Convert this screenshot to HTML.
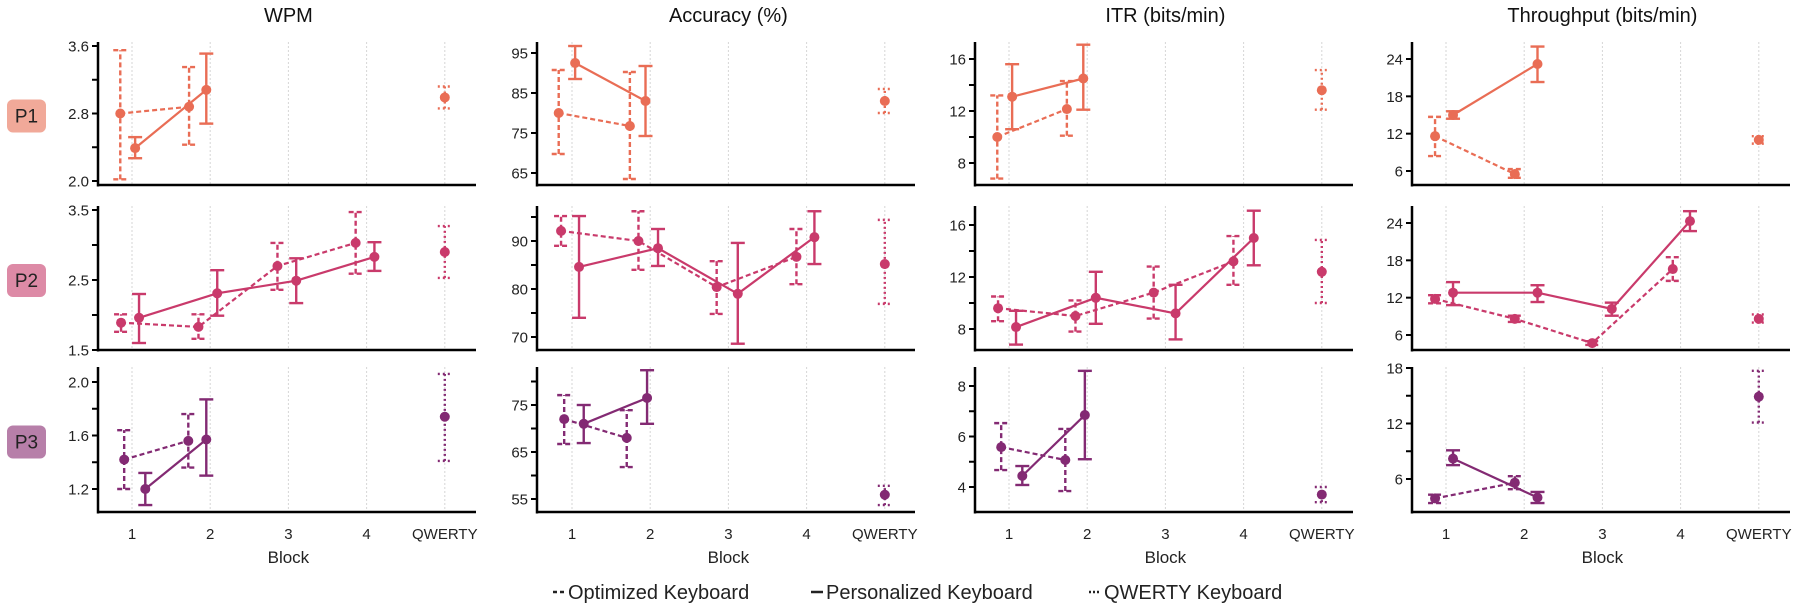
<!DOCTYPE html>
<html><head><meta charset="utf-8">
<style>
html,body{margin:0;padding:0;background:#fff;}
svg{display:block;font-family:"Liberation Sans",sans-serif;}
</style></head>
<body>
<svg id="chart" width="1800" height="613" viewBox="0 0 1800 613" xmlns="http://www.w3.org/2000/svg"></svg>
<script>
// ---- data (block position, mean, lower, upper) ----
const wpmP1Opt={x:[0.85,1.73],y:[2.80,2.88],lo:[2.02,2.43],hi:[3.55,3.35]};
const wpmP1Per={x:[1.04,1.95],y:[2.39,3.08],lo:[2.27,2.68],hi:[2.52,3.51]};
const wpmP1Qw={x:[5],y:[2.99],lo:[2.86],hi:[3.12]};
const wpmP2Opt={x:[0.86,1.85,2.86,3.86],y:[1.89,1.83,2.70,3.03],lo:[1.76,1.66,2.36,2.59],hi:[2.01,2.01,3.03,3.47]};
const wpmP2Per={x:[1.09,2.09,3.10,4.10],y:[1.96,2.31,2.49,2.83],lo:[1.60,1.99,2.17,2.63],hi:[2.30,2.64,2.81,3.04]};
const wpmP2Qw={x:[5],y:[2.90],lo:[2.53],hi:[3.27]};
const wpmP3Opt={x:[0.90,1.72],y:[1.42,1.56],lo:[1.20,1.36],hi:[1.64,1.76]};
const wpmP3Per={x:[1.17,1.95],y:[1.20,1.57],lo:[1.08,1.30],hi:[1.32,1.87]};
const wpmP3Qw={x:[5],y:[1.74],lo:[1.41],hi:[2.06]};

const accP1Opt={x:[0.83,1.74],y:[80,76.75],lo:[69.75,63.5],hi:[90.75,90.25]};
const accP1Per={x:[1.04,1.94],y:[92.5,83],lo:[88.5,74.25],hi:[96.75,91.75]};
const accP1Qw={x:[5],y:[83],lo:[80],hi:[86]};
const accP2Opt={x:[0.86,1.85,2.85,3.87],y:[92.1,90,80.4,86.7],lo:[89,84,74.8,81],hi:[95.2,96.2,85.8,92.5]};
const accP2Per={x:[1.09,2.10,3.12,4.10],y:[84.6,88.5,79,90.8],lo:[74,84.8,68.6,85.2],hi:[95.2,92.5,89.6,96.2]};
const accP2Qw={x:[5],y:[85.2],lo:[76.9],hi:[94.4]};
const accP3Opt={x:[0.90,1.70],y:[72,68],lo:[66.7,61.8],hi:[77.1,73.9]};
const accP3Per={x:[1.15,1.96],y:[71,76.5],lo:[66.9,71],hi:[75,82.4]};
const accP3Qw={x:[5],y:[55.9],lo:[53.7],hi:[57.8]};

const itrP1Opt={x:[0.85,1.74],y:[10.0,12.15],lo:[6.8,10.1],hi:[13.2,14.3]};
const itrP1Per={x:[1.04,1.95],y:[13.1,14.5],lo:[10.6,12.1],hi:[15.6,17.1]};
const itrP1Qw={x:[5],y:[13.6],lo:[12.1],hi:[15.15]};
const itrP2Opt={x:[0.86,1.85,2.85,3.87],y:[9.6,9.0,10.8,13.2],lo:[8.6,7.8,8.8,11.4],hi:[10.5,10.2,12.8,15.15]};
const itrP2Per={x:[1.09,2.11,3.13,4.13],y:[8.15,10.4,9.2,15.0],lo:[6.8,8.4,7.2,12.9],hi:[9.4,12.4,11.4,17.1]};
const itrP2Qw={x:[5],y:[12.4],lo:[10.0],hi:[14.85]};
const itrP3Opt={x:[0.90,1.72],y:[5.58,5.07],lo:[4.67,3.84],hi:[6.53,6.3]};
const itrP3Per={x:[1.17,1.97],y:[4.44,6.85],lo:[4.08,5.1],hi:[4.83,8.6]};
const itrP3Qw={x:[5],y:[3.7],lo:[3.4],hi:[4.0]};

const tpP1Opt={x:[0.86,1.88],y:[11.6,5.5],lo:[8.4,4.9],hi:[14.7,6.3]};
const tpP1Per={x:[1.09,2.17],y:[15.0,23.2],lo:[14.4,20.3],hi:[15.6,26]};
const tpP1Qw={x:[5],y:[11],lo:[10.4],hi:[11.6]};
const tpP2Opt={x:[0.86,1.88,2.87,3.90],y:[11.8,8.6,4.7,16.6],lo:[11.1,8.1,4.4,14.7],hi:[12.4,9.1,5.0,18.5]};
const tpP2Per={x:[1.09,2.17,3.12,4.12],y:[12.8,12.8,10.2,24.3],lo:[10.8,11.3,9.1,22.7],hi:[14.5,14.0,11.2,25.9]};
const tpP2Qw={x:[5],y:[8.6],lo:[8.0],hi:[9.3]};
const tpP3Opt={x:[0.86,1.88],y:[3.9,5.6],lo:[3.4,4.9],hi:[4.3,6.3]};
const tpP3Per={x:[1.09,2.17],y:[8.2,4.0],lo:[7.5,3.4],hi:[9.1,4.6]};
const tpP3Qw={x:[5],y:[14.9],lo:[12.1],hi:[17.7]};

const metricTitles=["WPM","Accuracy (%)","ITR (bits/min)","Throughput (bits/min)"];
const participantLabels=["P1","P2","P3"];
const xTickLabels=["1","2","3","4","QWERTY"];
const wpmTicks=[[2.0,2.4,2.8,3.2,3.6],[1.5,2.0,2.5,3.0,3.5],[1.2,1.4,1.6,1.8,2.0]];
const wpmTickLabels=[["2.0","","2.8","","3.6"],["1.5","","2.5","","3.5"],["1.2","","1.6","","2.0"]];
const accTicks=[[65,75,85,95],[70,75,80,85,90,95],[55,60,65,70,75,80]];
const accTickLabels=[["65","75","85","95"],["70","","80","","90",""],["55","","65","","75",""]];
const itrTicks=[[8,10,12,14,16],[8,10,12,14,16],[4,5,6,7,8]];
const itrTickLabels=[["8","","12","","16"],["8","","12","","16"],["4","","6","","8"]];
const tpTicks=[[6,12,18,24],[6,12,18,24],[6,9,12,15,18]];
const tpTickLabels=[["6","12","18","24"],["6","12","18","24"],["6","","12","","18"]];

// ---- layout ----
const NS="http://www.w3.org/2000/svg";
const svg=document.getElementById('chart');
const colAx=[98,537,975,1412], colG1=[132,572,1009,1446], STEP=78.2, PW=378;
const rowTop=[42,206,367], rowBot=[185,350,512];
const colors=["#e96d55","#c93a6b","#832a73"];
const boxColors=["#f1a999","#dd8aa6","#b77fa9"];
// y calibration per [col][row]: [v1,px1,v2,px2]
const cal=[
 [[2.0,181,3.6,46],[1.5,350,3.5,210],[1.2,489,2.0,382]],
 [[65,173,95,53],[70,337,90,241],[55,499,75,405]],
 [[8,163,16,59],[8,329,16,225],[4,487,8,386]],
 [[6,171,24,59],[6,335,24,223],[6,479,18,368]]];
const allSeries=[
 [[wpmP1Opt,wpmP1Per,wpmP1Qw],[wpmP2Opt,wpmP2Per,wpmP2Qw],[wpmP3Opt,wpmP3Per,wpmP3Qw]],
 [[accP1Opt,accP1Per,accP1Qw],[accP2Opt,accP2Per,accP2Qw],[accP3Opt,accP3Per,accP3Qw]],
 [[itrP1Opt,itrP1Per,itrP1Qw],[itrP2Opt,itrP2Per,itrP2Qw],[itrP3Opt,itrP3Per,itrP3Qw]],
 [[tpP1Opt,tpP1Per,tpP1Qw],[tpP2Opt,tpP2Per,tpP2Qw],[tpP3Opt,tpP3Per,tpP3Qw]]];
const allTicks=[wpmTicks,accTicks,itrTicks,tpTicks];
const allTickLabels=[wpmTickLabels,accTickLabels,itrTickLabels,tpTickLabels];
const dashes=["5,3","","2,3"];
const seriesNames=["optimized","personalized","qwerty"];

function mk(tag,attrs,parent){const e=document.createElementNS(NS,tag);for(const k in attrs)e.setAttribute(k,attrs[k]);(parent||svg).appendChild(e);return e;}
function xS(c,b){return colG1[c]+(b-1)*STEP;}
function yS(c,r,v){const k=cal[c][r];return k[1]+(v-k[0])*(k[3]-k[1])/(k[2]-k[0]);}

for(let c=0;c<4;c++){
  const t=mk('text',{x:xS(c,3),y:22,'text-anchor':'middle','font-size':20,fill:'#111'});
  t.textContent=metricTitles[c];
  
  
}
for(let r=0;r<3;r++){
  const g=mk('g',{});
  
  
  const cy=(rowTop[r]+rowBot[r])/2+2;
  mk('rect',{x:7,y:cy-16,width:39,height:33,rx:6,fill:boxColors[r]},g);
  const t=mk('text',{x:26.5,y:cy+7,'text-anchor':'middle','font-size':19,fill:'#222'},g);
  t.textContent=participantLabels[r];
}
for(let c=0;c<4;c++){
  for(let r=0;r<3;r++){
    const g=mk('g',{});
    
    
    const ax=colAx[c], top=rowTop[r], bot=rowBot[r];
    for(let i=0;i<5;i++){
      const gx=xS(c,i+1);
      const gl=mk('line',{x1:gx,x2:gx,y1:top,y2:bot,stroke:'#d6d6d6','stroke-width':1,'stroke-dasharray':'2,2'},g);
      
      
    }
    const ya=mk('line',{x1:ax,x2:ax,y1:top,y2:bot+1.5,stroke:'#000','stroke-width':2.5},g);
    
    
    const xa=mk('line',{x1:ax-1,x2:ax+PW,y1:bot,y2:bot,stroke:'#000','stroke-width':2.5},g);
    
    
    const tk=allTicks[c][r], tl=allTickLabels[c][r];
    tk.forEach((v,i)=>{
      const y=yS(c,r,v);
      mk('line',{x1:ax-6,x2:ax,y1:y,y2:y,stroke:'#000','stroke-width':2},g);
      if(tl[i]){const t=mk('text',{x:ax-9,y:y+5.5,'text-anchor':'end','font-size':15,fill:'#222'},g);t.textContent=tl[i];
        
        }
    });
    if(r===2){
      xTickLabels.forEach((l,i)=>{const t=mk('text',{x:xS(c,i+1),y:539,'text-anchor':'middle','font-size':15,fill:'#222'},g);t.textContent=l;
        
        });
      const bt=mk('text',{x:xS(c,3),y:563,'text-anchor':'middle','font-size':17,fill:'#222'},g);
      bt.textContent='Block';
      
      
    }
    const col=colors[r];
    allSeries[c][r].forEach((s,si)=>{
      const sg=mk('g',{},g);
      
      
      const da=dashes[si]?{'stroke-dasharray':dashes[si]}:{};
      if(s.x.length>1){
        const pts=s.x.map((b,i)=>xS(c,b)+','+yS(c,r,s.y[i])).join(' ');
        mk('polyline',Object.assign({points:pts,fill:'none',stroke:col,'stroke-width':2.2},da),sg);
      }
      s.x.forEach((b,i)=>{
        const px=xS(c,b), yl=yS(c,r,s.lo[i]), yh=yS(c,r,s.hi[i]);
        const eb=mk('g',{},sg);
        
        
        mk('line',Object.assign({x1:px,x2:px,y1:yl,y2:yh,stroke:col,'stroke-width':2.4},da),eb);
        mk('line',Object.assign({x1:px-7,x2:px+7,y1:yl,y2:yl,stroke:col,'stroke-width':2.4},da),eb);
        mk('line',Object.assign({x1:px-7,x2:px+7,y1:yh,y2:yh,stroke:col,'stroke-width':2.4},da),eb);
        const pt=mk('circle',{cx:px,cy:yS(c,r,s.y[i]),r:5,fill:col},sg);
        
        
      });
    });
  }
}
// legend
const lg=mk('g',{});


const legendItems=[["Optimized Keyboard",553,"4,3"],["Personalized Keyboard",811,""],["QWERTY Keyboard",1089,"2,2"]];
legendItems.forEach(it=>{
  const e=mk('g',{},lg);
  
  
  const a={x1:it[1],x2:it[1]+12,y1:592,y2:592,stroke:'#222','stroke-width':2.5};
  if(it[2])a['stroke-dasharray']=it[2];
  mk('line',a,e);
  const t=mk('text',{x:it[1]+15,y:599,'font-size':20,fill:'#222'},e);
  t.textContent=it[0];
});
</script>
</body></html>
